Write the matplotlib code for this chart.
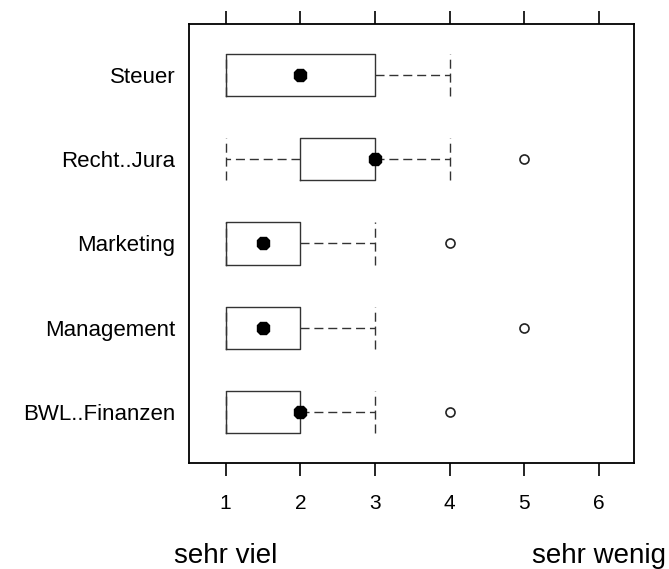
import matplotlib
matplotlib.use("Agg")
import matplotlib.pyplot as plt

plt.rcParams['font.family'] = ['Liberation Sans', 'DejaVu Sans']

# categories from bottom to top (lattice order)
fields = ["BWL..Finanzen", "Management", "Marketing", "Recht..Jura", "Steuer"]
whisker_low = [1, 1, 1, 1, 1]
q1 = [1, 1, 1, 2, 1]
medians = [2, 1.5, 1.5, 3, 2]
q3 = [2, 2, 2, 3, 3]
whisker_high = [3, 3, 3, 4, 4]
outliers = [[4], [5], [4], [5], []]
xticks = [1, 2, 3, 4, 5, 6]

stats = []
for i, name in enumerate(fields):
    stats.append(dict(label=name, whislo=whisker_low[i], q1=q1[i], med=medians[i],
                      q3=q3[i], whishi=whisker_high[i], fliers=outliers[i]))

fig = plt.figure(figsize=(6.69, 5.69), dpi=100)
ax = fig.add_axes([189 / 669, 1 - 463 / 569, (634 - 189) / 669, (463 - 24) / 569])

dash = (0, (6.5, 3.5))
positions = list(range(1, len(fields) + 1))
ax.bxp(stats, positions=positions, orientation='horizontal', widths=0.5, capwidths=0.5,
       boxprops=dict(color='#333333', linewidth=1.0),
       whiskerprops=dict(color='#333333', linewidth=1.0, linestyle=dash),
       capprops=dict(color='#333333', linewidth=1.0, linestyle=dash),
       medianprops=dict(linestyle='none'),
       flierprops=dict(marker='o', markersize=6.5, markerfacecolor='none',
                       markeredgecolor='#222222', markeredgewidth=1.2),
       manage_ticks=False)

# median dots
ax.plot(medians, positions, linestyle='none', marker='8', markersize=10,
        color='black', zorder=5)

ax.set_xlim(0.51, 6.47)
ax.set_ylim(0.4, 5.6)
ax.set_xticks(xticks)
ax.set_xticklabels([str(t) for t in xticks])
ax.set_yticks(positions)
ax.set_yticklabels(fields)

ax.tick_params(axis='x', which='both', direction='out', length=9.5, width=1.2,
               top=True, bottom=True, labeltop=False, labelsize=15, pad=13)
ax.tick_params(axis='y', length=0, labelsize=16, pad=10)
for s in ax.spines.values():
    s.set_linewidth(1.3)
    s.set_color('black')

# scale annotations below the axis
ax.text(1, -0.228, "sehr viel", transform=ax.get_xaxis_transform(), ha='center',
        va='baseline', fontsize=20)
ax.text(6, -0.228, "sehr wenig", transform=ax.get_xaxis_transform(), ha='center',
        va='baseline', fontsize=20)

fig.savefig("out.png", dpi=100)
